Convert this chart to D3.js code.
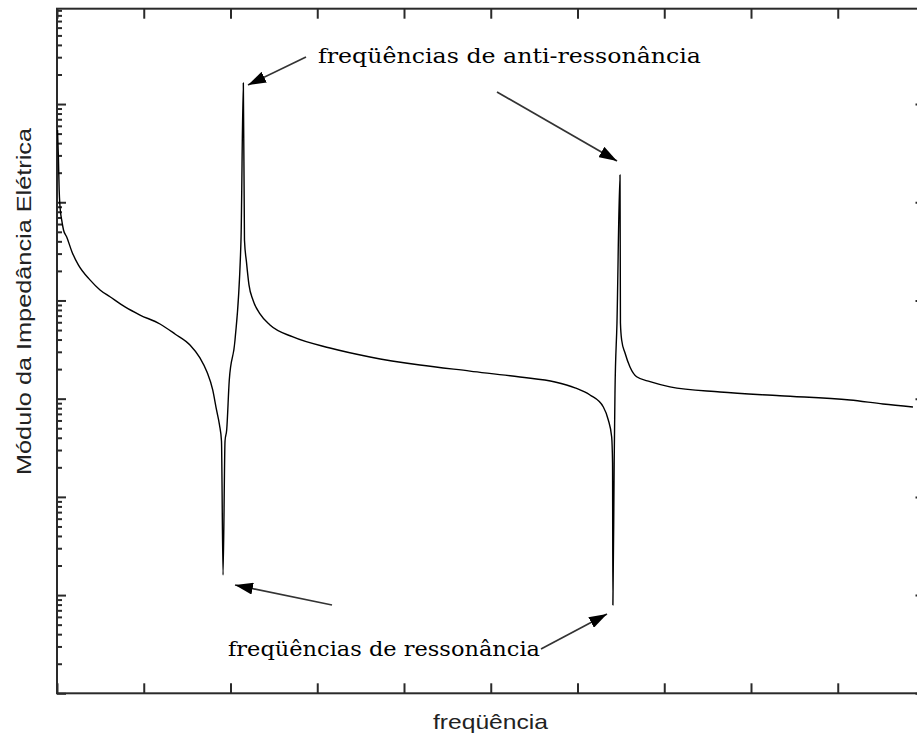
<!DOCTYPE html>
<html>
<head>
<meta charset="utf-8">
<script src="https://cdn.jsdelivr.net/npm/d3@7"></script>
<style>
  html, body { margin: 0; padding: 0; background: #fff; }
  svg { display: block; }
</style>
</head>
<body>
<svg id="chart" width="917" height="738"></svg>
<script>
// Impedance modulus vs frequency of a piezoelectric element (two resonance / anti-resonance pairs)
const frequency = [
  0.06, 0.17, 0.25, 0.35, 0.54, 0.75, 1.12, 1.73, 2.46, 3.80, 4.96, 6.11, 7.84, 9.57,
  11.87, 13.60, 15.33, 16.48, 17.29, 17.95, 18.39, 18.73, 18.96, 19.14, 19.37, 19.56,
  19.86, 20.52, 21.21, 21.48, 21.61, 21.84, 22.13, 22.59, 23.40, 24.55, 27.20, 31.47,
  36.08, 41.84, 47.61, 53.37, 57.41, 59.71, 61.44, 62.98, 63.55, 63.94, 64.04, 64.08,
  64.23, 64.32, 64.55, 64.90, 64.95, 65.09, 65.48, 66.05, 66.82, 68.36, 70.66, 76.43,
  83.34, 91.41, 95.22, 98.67
];
const impedance = [
  545000, 270000, 133000, 89600, 66000, 52200, 44300, 31200, 23000, 16200, 12800, 10900, 8590, 7110,
  5760, 4560, 3520, 2600, 1870, 1230, 767, 540, 371, 16.0, 371, 480,
  1550, 3960, 41300, 1640000, 41300, 24700, 14400, 10100, 7290, 5630, 4250, 3280,
  2660, 2200, 1910, 1660, 1480, 1290, 1090, 823, 607, 407, 221, 7.93,
  238, 1140, 5900, 190000, 5900, 3960, 2920, 2100, 1670, 1490, 1320, 1170,
  1070, 970, 883, 823
];

// Axis ticks (unlabelled): linear frequency ticks, decade ticks on the log axis
const freqTicks = [0, 10, 20, 30, 40, 50, 60, 70, 80, 90, 100];
const freqDomain = [0, 100];
const impedanceDomain = [1, 9.35e6];

// Annotation and axis title texts
const antiLabel = "freqüências de anti-ressonância";
const resLabel = "freqüências de ressonância";
const xTitle = "freqüência";
const yTitle = "Módulo da Impedância Elétrica";

const svg = d3.select("#chart");
const plotLeft = 57, plotRight = 924.5, plotTop = 8.7, plotBottom = 693.3;

const x = d3.scaleLinear().domain(freqDomain).range([plotLeft, plotRight]);
const y = d3.scaleLog().domain(impedanceDomain).range([plotBottom, plotTop]);

const axisColor = "#2a2a2a";

// log ticks: majors at each decade, minors at 2..9
const yTicks = y.ticks();
const isDecade = v => Math.abs(Math.log10(v) - Math.round(Math.log10(v))) < 1e-9;

function styleAxis(g) {
  g.select(".domain").remove();
  g.selectAll(".tick line").attr("stroke", axisColor).attr("stroke-width", 2);
  g.selectAll(".tick text").remove();
}

svg.append("g").attr("transform", `translate(0,${plotBottom})`)
  .call(d3.axisBottom(x).tickValues(freqTicks).tickSize(-10).tickFormat(""))
  .call(styleAxis);
svg.append("g").attr("transform", `translate(0,${plotTop})`)
  .call(d3.axisTop(x).tickValues(freqTicks).tickSize(-10).tickFormat(""))
  .call(styleAxis);

function yAxis(g, axisFn, sign) {
  g.call(axisFn(y).tickValues(yTicks).tickFormat(""))
   .call(styleAxis);
  g.selectAll(".tick line")
    .attr("x2", d => sign * (isDecade(d) ? 9 : 5));
}
svg.append("g").attr("transform", `translate(${plotLeft},0)`)
  .call(g => yAxis(g, d3.axisLeft, 1));
svg.append("g").attr("transform", `translate(${plotRight},0)`)
  .call(g => yAxis(g, d3.axisRight, -1));

// frame
svg.append("rect")
  .attr("x", plotLeft).attr("y", plotTop)
  .attr("width", plotRight - plotLeft).attr("height", plotBottom - plotTop)
  .attr("fill", "none").attr("stroke", axisColor).attr("stroke-width", 2);

// impedance curve
const pts = frequency.map((f, i) => [f, impedance[i]]);
svg.append("path")
  .datum(pts)
  .attr("fill", "none")
  .attr("stroke", "#000")
  .attr("stroke-width", 1.4)
  .attr("stroke-linejoin", "round")
  .attr("d", d3.line().curve(d3.curveMonotoneX).x(d => x(d[0])).y(d => y(d[1])));

// arrows
const defs = svg.append("defs");
defs.append("marker")
  .attr("id", "head")
  .attr("viewBox", "0 0 18 12")
  .attr("refX", 18).attr("refY", 6)
  .attr("markerWidth", 18).attr("markerHeight", 12)
  .attr("markerUnits", "userSpaceOnUse")
  .attr("orient", "auto")
  .append("path").attr("d", "M0,0 L18,6 L0,12 Z").attr("fill", "#000");

const arrows = [
  { from: [306, 57], to: [248, 85] },
  { from: [497, 92], to: [617, 161] },
  { from: [332, 605], to: [235, 585] },
  { from: [541, 649], to: [607, 614] }
];
svg.selectAll("line.arrow").data(arrows).enter().append("line")
  .attr("class", "arrow")
  .attr("x1", d => d.from[0]).attr("y1", d => d.from[1])
  .attr("x2", d => d.to[0]).attr("y2", d => d.to[1])
  .attr("stroke", "#333").attr("stroke-width", 1.7)
  .attr("marker-end", "url(#head)");

// annotation text
svg.append("text")
  .attr("x", 318).attr("y", 63)
  .attr("font-family", "DejaVu Serif")
  .attr("font-size", 20)
  .attr("textLength", 383).attr("lengthAdjust", "spacingAndGlyphs")
  .attr("fill", "#000")
  .text(antiLabel);
svg.append("text")
  .attr("x", 228).attr("y", 656)
  .attr("font-family", "DejaVu Serif")
  .attr("font-size", 20)
  .attr("textLength", 312).attr("lengthAdjust", "spacingAndGlyphs")
  .attr("fill", "#000")
  .text(resLabel);

// axis titles
svg.append("text")
  .attr("x", 433).attr("y", 729)
  .attr("font-family", "Liberation Sans")
  .attr("font-size", 21)
  .attr("textLength", 115).attr("lengthAdjust", "spacingAndGlyphs")
  .attr("fill", "#222")
  .text(xTitle);
svg.append("text")
  .attr("transform", "translate(31,475) rotate(-90)")
  .attr("font-family", "Liberation Sans")
  .attr("font-size", 21)
  .attr("textLength", 347).attr("lengthAdjust", "spacingAndGlyphs")
  .attr("fill", "#222")
  .text(yTitle);
</script>
</body>
</html>
